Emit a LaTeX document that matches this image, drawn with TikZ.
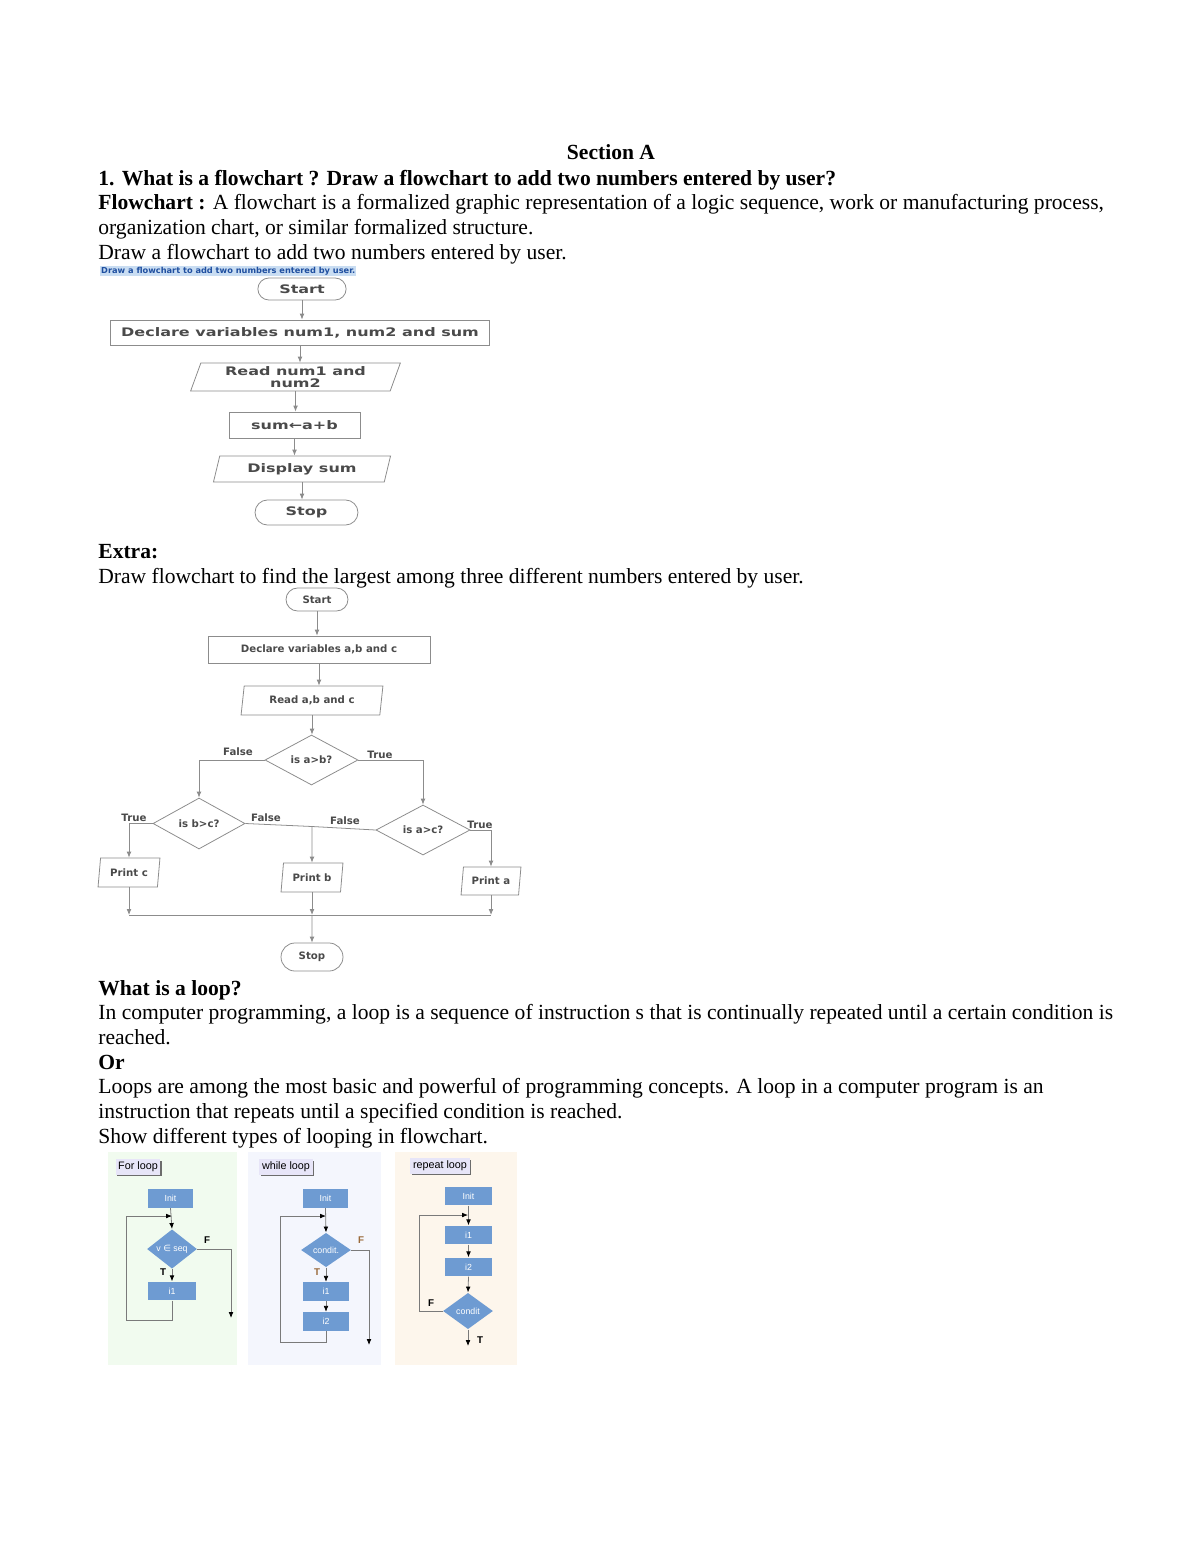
\documentclass[tikz,border=0pt]{standalone}
\usepackage{fontspec}
\setmainfont{Liberation Serif}
\setsansfont{DejaVu Sans}
\newfontfamily\fcwide{DejaVu Sans}[FakeStretch=1.36]
\newfontfamily\loopfont{Liberation Sans}
\usetikzlibrary{arrows.meta, positioning, shapes.geometric, shapes.misc, shadows}
\definecolor{fcline}{HTML}{8C8C8C}
\definecolor{fctext}{HTML}{4A4A4A}
\definecolor{hdrbg}{HTML}{C9DDF2}
\definecolor{hdrtext}{HTML}{1F4FA0}
\definecolor{loopblue}{HTML}{6E9BD2}
\definecolor{loopline}{HTML}{7A7A7A}
\definecolor{panelgreen}{HTML}{F1FBEF}
\definecolor{panelblue}{HTML}{F4F6FD}
\definecolor{panelorange}{HTML}{FDF6EC}
\definecolor{tagbg}{HTML}{E7E5F8}
\definecolor{tbrown}{HTML}{9A6A3A}

\begin{document}
\begin{tikzpicture}[x=0.51pt, y=-0.51pt,
    txt/.style={anchor=base west, inner sep=0pt, font=\fontsize{11}{12.65}\selectfont},
    txtb/.style={txt, font=\fontsize{11}{12.65}\selectfont\bfseries},
    proc/.style={draw=fcline, rectangle, inner sep=0pt, text=fctext},
    term/.style={draw=fcline, rounded rectangle, inner sep=0pt, text=fctext},
    io/.style={draw=fcline, trapezium, trapezium left angle=70, trapezium right angle=110,
        trapezium stretches=true, inner sep=0pt, text=fctext},
    dec/.style={draw=fcline, diamond, inner sep=0pt, text=fctext},
    fl/.style={draw=fcline, -{Latex[length=3pt,width=2.4pt]}},
    fca/.style={font=\fcwide\bfseries\fontsize{6}{6}\selectfont},
    fcb/.style={font=\sffamily\bfseries\fontsize{5.2}{6}\selectfont},
    fclab/.style={fcb, text=fctext, inner sep=0pt},
    lbox/.style={fill=loopblue, text=white, inner sep=0pt, minimum height=9.5pt,
        font=\loopfont\fontsize{4.5}{5}\selectfont},
    ldia/.style={fill=loopblue, diamond, text=white, inner sep=0pt, minimum width=25.5pt,
        minimum height=17.5pt, font=\loopfont\fontsize{4.5}{5}\selectfont},
    la/.style={draw=loopline, -{Latex[length=3pt,width=2.4pt,black]}},
    tag/.style={fill=tagbg, inner sep=1.3pt, font=\loopfont\fontsize{5.5}{6}\selectfont,
        drop shadow={shadow xshift=0.9pt, shadow yshift=-0.9pt, fill=gray!85!black, opacity=1}},
    ltf/.style={inner sep=0pt, font=\loopfont\bfseries\fontsize{5}{5}\selectfont}]
    \useasboundingbox (0,0) rectangle (1200,1553);
    \fill[white] (0,0) rectangle (1200,1553);

    % Section A text
    \node[txtb, anchor=base] (secA) at (611,160) {Section A};
    \node[txtb] (q1) at (98,186) {1. What is a flowchart ? Draw a flowchart to add two numbers entered by user?};
    \node[txt] (def1) at (98,210) {\textbf{Flowchart :} A flowchart is a formalized graphic representation of a logic sequence, work or manufacturing process,};
    \node[txt] (def2) at (98,235) {organization chart, or similar formalized structure.};
    \node[txt] (ask1) at (98,259) {Draw a flowchart to add two numbers entered by user.};
    \node[anchor=west, fill=hdrbg, text=hdrtext, inner sep=0.4pt,
        font=\sffamily\bfseries\fontsize{4.2}{4.5}\selectfont] (hdr) at (100,271)
        {Draw a flowchart to add two numbers entered by user.};

    % Flowchart 1
    \node[term, fca, minimum width=45pt, minimum height=11.2pt] (start1) at (302,289) {Start};
    \node[proc, fca, minimum width=193pt, minimum height=12.8pt] (decl1) at (300,332.5) {Declare variables num1, num2 and sum};
    \node[io, fca, align=center, minimum width=107.6pt, minimum height=14.3pt] (read1) at (295.5,377) {Read num1 and\\num2};
    \node[proc, fca, minimum width=66.8pt, minimum height=13.3pt] (sum1) at (294.5,425) {sum←a+b};
    \node[io, fca, minimum width=90.8pt, minimum height=13.3pt] (disp1) at (302,469) {Display sum};
    \node[term, fca, minimum width=52.5pt, minimum height=12.8pt] (stop1) at (306.5,512.5) {Stop};
    \draw[fl] (start1.south) -- (start1.south |- decl1.north);
    \draw[fl] (decl1.south) -- (decl1.south |- read1.north);
    \draw[fl] (read1.south) -- (read1.south |- sum1.north);
    \draw[fl] (sum1.south) -- (sum1.south |- disp1.north);
    \draw[fl] (disp1.south) -- (disp1.south |- stop1.north);

    % Extra text
    \node[txtb] (extra) at (98,558) {Extra:};
    \node[txt] (ask2) at (98,583) {Draw flowchart to find the largest among three different numbers entered by user.};

    % Flowchart 2
    \begin{scope}[io/.append style={trapezium left angle=78, trapezium right angle=102}]
    \node[term, fcb, minimum width=31.6pt, minimum height=11.7pt] (start2) at (317,599.5) {Start};
    \node[proc, fcb, minimum width=113.2pt, minimum height=13.8pt] (decl2) at (319,649.5) {Declare variables a,b and c};
    \node[io, fcb, minimum width=72.4pt, minimum height=14.8pt] (read2) at (312,700.5) {Read a,b and c};
    \node[dec, fcb, minimum width=47.4pt, minimum height=25.5pt] (dab) at (311.5,760) {is a>b?};
    \node[dec, fcb, minimum width=46.9pt, minimum height=26pt] (dbc) at (199,823.5) {is b>c?};
    \node[dec, fcb, minimum width=48pt, minimum height=25.5pt] (dac) at (423,830) {is a>c?};
    \node[io, fcb, minimum width=31.6pt, minimum height=14.8pt] (prc) at (129,872.5) {Print c};
    \node[io, fcb, minimum width=31.6pt, minimum height=14.8pt] (prb) at (312,877.5) {Print b};
    \node[io, fcb, minimum width=30.6pt, minimum height=14.3pt] (pra) at (491,881) {Print a};
    \node[term, fcb, minimum width=31.6pt, minimum height=14.3pt] (stop2) at (312,957) {Stop};
    \end{scope}
    \coordinate (fj) at (312,826.5);
    \coordinate (jline) at (0,915);
    \draw[fl] (start2.south) -- (start2.south |- decl2.north);
    \draw[fl] (decl2.south) -- (decl2.south |- read2.north);
    \draw[fl] (read2.south) -- (read2.south |- dab.north);
    \draw[fl] (dab.west) -| (dbc.north);
    \draw[fl] (dab.east) -| (dac.north);
    \draw[fl] (dbc.west) -| (prc.north);
    \draw[fl] (dac.east) -| (pra.north);
    \draw[fcline] (dbc.east) -- (fj);
    \draw[fcline] (dac.west) -- (fj);
    \draw[fl] (fj) -- (prb.north);
    \draw[fl] (prc.south) -- (prc.south |- jline);
    \draw[fl] (prb.south) -- (prb.south |- jline);
    \draw[fl] (pra.south) -- (pra.south |- jline);
    \draw[fcline] (prc.south |- jline) -- (pra.south |- jline);
    \draw[fl] (prb.south |- jline) -- (stop2.north);
    \node[fclab] (lf1) at (238,752) {False};
    \node[fclab] (lt1) at (380,755) {True};
    \node[fclab] (lt2) at (134,818) {True};
    \node[fclab] (lf2) at (266,818) {False};
    \node[fclab] (lf3) at (345,821) {False};
    \node[fclab] (lt3) at (480,825) {True};

    % Loop text
    \node[txtb] (loopq) at (98,995) {What is a loop?};
    \node[txt] (loop1) at (98,1019) {In computer programming, a loop is a sequence of instruction s that is continually repeated until a certain condition is};
    \node[txt] (loop2) at (98,1044) {reached.};
    \node[txtb] (orw) at (98,1069) {Or};
    \node[txt] (loop3) at (98,1093) {Loops are among the most basic and powerful of programming concepts. A loop in a computer program is an};
    \node[txt] (loop4) at (98,1118) {instruction that repeats until a specified condition is reached.};
    \node[txt] (loop5) at (98,1143) {Show different types of looping in flowchart.};

    % Panels
    \fill[panelgreen] (108,1152) rectangle (237,1365);
    \fill[panelblue] (248,1152) rectangle (381,1365);
    \fill[panelorange] (395,1152) rectangle (517,1365);

    % For loop
    \node[tag] (tfor) at (138,1167) {For loop};
    \node[lbox, minimum width=23pt] (finit) at (170.5,1198.5) {Init};
    \node[ldia] (fcond) at (172,1249) {v {\sffamily ∈} seq};
    \node[lbox, minimum width=24.5pt] (fi1) at (172,1291) {i1};
    \coordinate (fback) at (172,1216);
    \coordinate (fout) at (231,1318);
    \draw[la] (finit.south) -- (fcond.north);
    \draw[la] (fi1.south) |- (126,1320) |- (fback);
    \draw[la] (fcond.south) -- (fi1.north);
    \draw[la] (fcond.east) -| (fout);
    \node[ltf] (ft) at (163,1272) {T};
    \node[ltf] (ff) at (207,1240) {F};

    % While loop
    \node[tag] (twhile) at (286,1167) {while loop};
    \node[lbox, minimum width=23pt] (winit) at (325.5,1198.5) {Init};
    \node[ldia] (wcond) at (326,1250) {condit.};
    \node[lbox, minimum width=23.5pt] (wi1) at (326,1291.5) {i1};
    \node[lbox, minimum width=23.5pt] (wi2) at (326,1321.5) {i2};
    \coordinate (wback) at (326,1216);
    \coordinate (wout) at (369,1345);
    \draw[la] (winit.south) -- (wcond.north);
    \draw[la] (wi2.south) |- (280,1342) |- (wback);
    \draw[la] (wcond.south) -- (wi1.north);
    \draw[la] (wi1.south) -- (wi2.north);
    \draw[la] (wcond.east) -| (wout);
    \node[ltf, text=tbrown] (wt) at (317,1272) {T};
    \node[ltf, text=tbrown] (wf) at (361,1240) {F};

    % Repeat loop
    \node[tag] (trep) at (440,1166) {repeat loop};
    \node[lbox, minimum width=24pt] (rinit) at (468.5,1196) {Init};
    \node[lbox, minimum width=24pt] (ri1) at (468.5,1235) {i1};
    \node[lbox, minimum width=24pt] (ri2) at (468.5,1267) {i2};
    \node[ldia, minimum height=18.5pt] (rcond) at (468,1311) {condit};
    \coordinate (rback) at (468,1215);
    \coordinate (rout) at (468,1346);
    \draw[la] (rinit.south) -- (ri1.north);
    \draw[la] (ri1.south) -- (ri2.north);
    \draw[la] (ri2.south) -- (rcond.north);
    \draw[la] (rcond.west) -| (419,1215) -- (rback);
    \draw[la] (rcond.south) -- (rout);
    \node[ltf] (rf) at (431,1303) {F};
    \node[ltf] (rt) at (480,1340) {T};
\end{tikzpicture}
\end{document}
